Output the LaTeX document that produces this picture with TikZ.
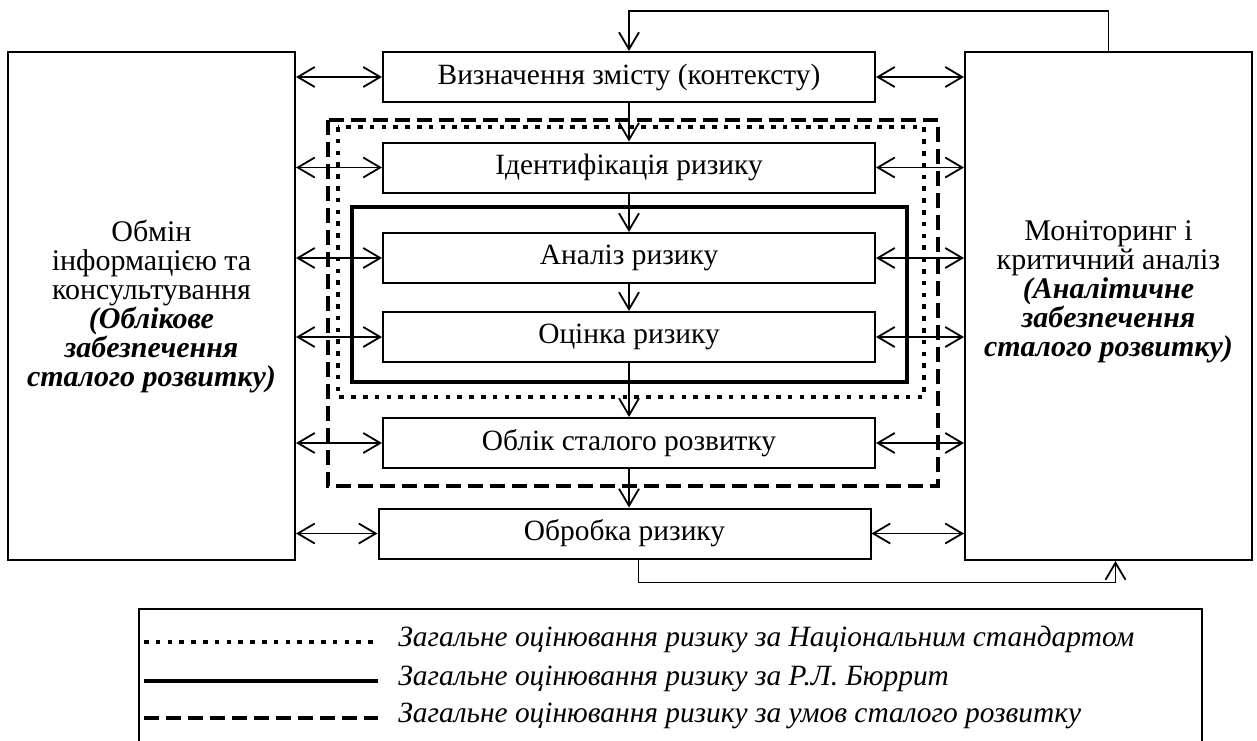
\documentclass[tikz,border=0pt]{standalone}
\usepackage{fontspec}
\setmainfont{Liberation Serif}
\usetikzlibrary{arrows.meta}
\newcommand{\boldit}[1]{\textbf{\textit{#1}}}

\tikzset{
  stage/.style={draw, line width=1pt, minimum width=246pt, minimum height=25pt, inner sep=0pt},
  side/.style={draw, line width=1pt, minimum width=143.5pt, minimum height=254pt, inner sep=0pt},
  sidetxt/.style={align=center, font=\fontsize{15}{14.5}\selectfont},
  link/.style={line width=0.9pt, -{Straight Barb[length=8.5pt, width=10pt]}},
  both/.style={line width=0.9pt, {Straight Barb[length=8.5pt, width=10pt]}-{Straight Barb[length=8.5pt, width=10pt]}},
  natline/.style={line width=2.3pt, dash pattern=on 2.3pt off 3.6pt},
  burline/.style={line width=2.4pt},
  sustline/.style={line width=2.4pt, dash pattern=on 7.5pt off 3.5pt},
}

\begin{document}
\begin{tikzpicture}[font=\fontsize{14.7}{16}\selectfont, x=0.5pt, y=-0.5pt]
  \useasboundingbox (0,0) rectangle (1257,740);

  % Stage boxes down the middle
  \node[stage] (ctx)   at (629,77)    {Визначення змісту (контексту)};
  \node[stage] (ident) at (629,167.5) {Ідентифікація ризику};
  \node[stage] (anal)  at (629,258)   {Аналіз ризику};
  \node[stage] (ocin)  at (629,337)   {Оцінка ризику};
  \node[stage] (oblik) at (629,443)   {Облік сталого розвитку};
  \node[stage] (obrob) at (624.5,533.5) {Обробка ризику};

  % Side boxes
  \node[side, sidetxt] (left) at (151.5,306)
    {Обмін\\інформацією та\\консультування\\\boldit{(Облікове}\\\boldit{забезпечення}\\\boldit{сталого розвитку)}};
  \node[side] (right) at (1108.5,306) {};
  \node[sidetxt] (righttxt) at (1108.5,292)
    {Моніторинг і\\критичний аналіз\\\boldit{(Аналітичне}\\\boldit{забезпечення}\\\boldit{сталого розвитку)}};

  % Frames of the three assessments
  \draw[sustline] (328,120) rectangle (938,486);
  \draw[natline]  (338,127) rectangle (924,397);
  \draw[burline]  (352,207) rectangle (907,382);

  % Two-way links to the side boxes
  \foreach \s in {ctx,ident,anal,ocin,oblik,obrob}{
    \draw[both] (left.east |- \s.west) -- (\s.west);
    \draw[both] (\s.east) -- (right.west |- \s.east);
  }

  % Flow from stage to stage
  \foreach \a/\b in {ctx/ident,ident/anal,anal/ocin,ocin/oblik,oblik/obrob}{
    \draw[link] (\a.south) -- (\a.south |- \b.north);
  }

  % Feedback loops
  \draw[link] (right.north) -- ++(0,-40) -| (ctx.north);
  \draw[link] ([xshift=7pt]obrob.south) -- ++(0,23) -| ([xshift=3.5pt]right.south);

  % Legend
  \draw[line width=1pt] (139,750) -- (139,609) -- (1202,609) -- (1202,750);
  \foreach \sty/\y/\lab/\txt in {natline/646/lgnat/{Загальне оцінювання ризику за Національним стандартом},
                                 burline/685/lgbur/{Загальне оцінювання ризику за Р.Л. Бюррит},
                                 sustline/722/lgsust/{Загальне оцінювання ризику за умов сталого розвитку}}{
    \draw[\sty] (144,\y-4) -- (378,\y-4);
    \node[anchor=base west, inner sep=0pt, font=\fontsize{14.7}{16}\selectfont\itshape] (\lab) at (398,\y) {\txt};
  }

\end{tikzpicture}
\end{document}
